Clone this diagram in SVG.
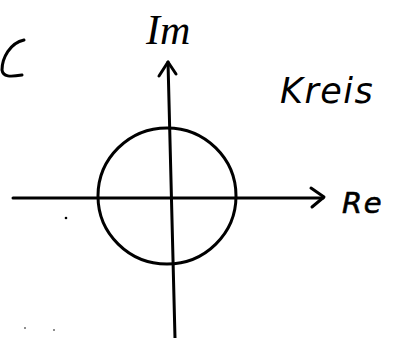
<svg xmlns="http://www.w3.org/2000/svg" width="393" height="338" viewBox="0 0 393 338">
<style>
.ax{stroke:#000;stroke-width:3;fill:none;stroke-linecap:round;stroke-linejoin:round}
.lbl{font-family:"Liberation Serif",serif;font-style:italic;fill:#000}
.hand{font-family:"DejaVu Sans",sans-serif;font-style:italic;fill:#000}
</style>
<rect width="393" height="338" fill="#fff"/>
<g id="circle"><ellipse class="ax" cx="167" cy="196" rx="69" ry="68"/></g>
<g id="connectors">
<path class="ax" d="M13 198 L323 198"/>
<path class="ax" d="M311 188 L324 197 L312 207"/>
<path class="ax" d="M175 338 L168 62"/>
<path class="ax" d="M159 76 L168 62 L176 74"/>
</g>
<g id="C"><path class="ax" d="M24 40 C10 43 2 58 2 70 C3 77 10 77 22 75" stroke-width="2.5"/></g>
<g id="Im"><text class="lbl" x="146" y="44" font-size="42">Im</text></g>
<g id="Kreis"><text class="hand" x="280" y="103" font-size="35" letter-spacing="1.5">Kreis</text></g>
<g id="Re"><text class="hand" x="342" y="213" font-size="29" stroke="#000" stroke-width="0.6" letter-spacing="1.5">Re</text></g>
<g id="dots" fill="#000"><circle cx="66" cy="218" r="1.3"/><circle cx="25" cy="328" r="0.8"/><circle cx="54" cy="330" r="0.8"/></g>
</svg>
